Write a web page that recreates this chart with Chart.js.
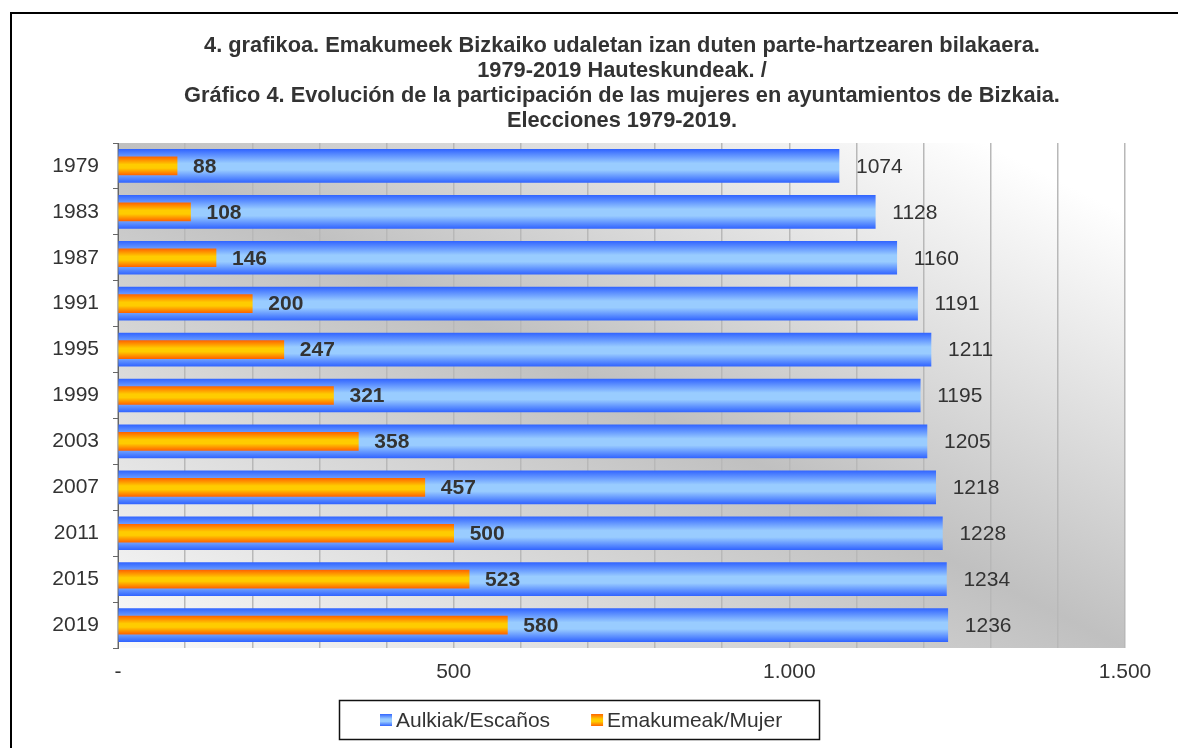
<!DOCTYPE html>
<html>
<head>
<meta charset="utf-8">
<title>Gráfico 4</title>
<script src="https://cdn.jsdelivr.net/npm/chart.js@4.4.1/dist/chart.umd.min.js"></script>
<style>
  html, body { margin: 0; padding: 0; background: #fff; overflow: hidden; }
  #chart { position: absolute; left: 0; top: 0; }
  #frame { position: absolute; left: 10px; top: 12px; width: 2000px; height: 2000px;
           border-left: 2px solid #000; border-top: 2px solid #000; pointer-events: none; }
</style>
</head>
<body>
<canvas id="chart" width="1244" height="748"></canvas>
<div id="frame"></div>
<script>
// hauteskundeak / elecciones
var years = ['1979', '1983', '1987', '1991', '1995', '1999', '2003', '2007', '2011', '2015', '2019'];
// aulkiak guztira / escaños totales
var seats = [1074, 1128, 1160, 1191, 1211, 1195, 1205, 1218, 1228, 1234, 1236];
// emakumeak / mujeres
var women = [88, 108, 146, 200, 247, 321, 358, 457, 500, 523, 580];

var seriesNames = ['Aulkiak/Escaños', 'Emakumeak/Mujer'];
var xTickLabels = { 0: '-', 500: '500', 1000: '1.000', 1500: '1.500' };
var titleLines = [
    '4. grafikoa. Emakumeek Bizkaiko udaletan izan duten parte-hartzearen bilakaera.',
    '1979-2019 Hauteskundeak. /',
    'Gráfico 4. Evolución de la participación de las mujeres en ayuntamientos de Bizkaia.',
    'Elecciones 1979-2019.'
];

var FONT = '"Liberation Sans", Arial, sans-serif';
var TEXT = '#333333';

function fillStops(g, edge, mid) {
    g.addColorStop(0, edge);
    g.addColorStop(0.42, mid);
    g.addColorStop(0.62, mid);
    g.addColorStop(1, edge);
    return g;
}

// vertical gradient on each bar, like the office chart
function barGradient(edge, mid) {
    return function(context) {
        var chart = context.chart;
        var yScale = chart.scales.y;
        if (!yScale || context.dataIndex === undefined) return edge;
        var t = context.dataset.barThickness;
        var cy = yScale.getPixelForValue(context.dataIndex);
        if (!isFinite(cy)) return edge;
        return fillStops(chart.ctx.createLinearGradient(0, cy - t / 2, 0, cy + t / 2), edge, mid);
    };
}

// light corners bottom-left and top-right, grey along the other diagonal
var plotBackground = {
    id: 'plotBackground',
    beforeDraw: function(chart) {
        var a = chart.chartArea, ctx = chart.ctx;
        if (!a) return;
        var w = a.right - a.left, h = a.bottom - a.top;
        var k = 2 / (1 / (w * w) + 1 / (h * h));
        var g = ctx.createLinearGradient(a.left, a.bottom, a.left + k / w, a.bottom - k / h);
        g.addColorStop(0, '#fafafa');
        g.addColorStop(0.5, '#c0c0c0');
        g.addColorStop(0.93, '#ffffff');
        g.addColorStop(1, '#ffffff');
        ctx.save();
        ctx.fillStyle = g;
        ctx.fillRect(a.left, a.top, w, h);
        ctx.restore();
    }
};

var valueLabels = {
    id: 'valueLabels',
    afterDatasetsDraw: function(chart) {
        var ctx = chart.ctx;
        ctx.save();
        ctx.textBaseline = 'middle';
        ctx.textAlign = 'left';
        ctx.fillStyle = TEXT;
        chart.data.datasets.forEach(function(ds, i) {
            var meta = chart.getDatasetMeta(i);
            ctx.font = (ds.labelBold ? 'bold ' : '') + '21px ' + FONT;
            meta.data.forEach(function(bar, j) {
                ctx.fillText(String(ds.data[j]), bar.x + ds.labelGap, bar.y + 1);
            });
        });
        ctx.restore();
    }
};

var boxedLegend = {
    id: 'boxedLegend',
    afterDraw: function(chart) {
        var ctx = chart.ctx;
        ctx.save();
        ctx.fillStyle = '#fff';
        ctx.fillRect(339, 700, 480, 39);
        ctx.strokeStyle = '#111';
        ctx.lineWidth = 1.5;
        ctx.strokeRect(339.5, 700.5, 480, 39);
        ctx.font = '21px ' + FONT;
        ctx.textBaseline = 'middle';
        ctx.textAlign = 'left';
        var x = 380, cy = 720;
        chart.data.datasets.forEach(function(ds) {
            ctx.fillStyle = fillStops(ctx.createLinearGradient(0, cy - 6, 0, cy + 6), ds.edgeColor, ds.midColor);
            ctx.fillRect(x, cy - 6, 12, 12);
            ctx.fillStyle = TEXT;
            ctx.fillText(ds.label, x + 16, cy + 1);
            x += 16 + ctx.measureText(ds.label).width + 41;
        });
        ctx.restore();
    }
};

window.onload = function() {
    var ctx = document.getElementById('chart').getContext('2d');
    new Chart(ctx, {
        type: 'bar',
        data: {
            labels: years,
            datasets: [
                {
                    label: seriesNames[0],
                    data: seats,
                    grouped: false,
                    order: 2,
                    barThickness: 33,
                    edgeColor: '#3366ff',
                    midColor: '#99ccff',
                    backgroundColor: barGradient('#3366ff', '#99ccff'),
                    borderWidth: 0,
                    labelGap: 17,
                    labelBold: false
                },
                {
                    label: seriesNames[1],
                    data: women,
                    grouped: false,
                    order: 1,
                    barThickness: 18,
                    edgeColor: '#ff6600',
                    midColor: '#ffcc00',
                    backgroundColor: barGradient('#ff6600', '#ffcc00'),
                    borderWidth: 0,
                    labelGap: 16,
                    labelBold: true
                }
            ]
        },
        options: {
            indexAxis: 'y',
            responsive: false,
            animation: false,
            layout: { padding: { left: 0, right: 0, top: 0, bottom: 60 } },
            plugins: {
                legend: { display: false },
                tooltip: { enabled: false },
                title: {
                    display: true,
                    text: titleLines,
                    color: TEXT,
                    font: { family: FONT, size: 21.8, weight: 'bold', lineHeight: '25px' },
                    padding: { top: 33, bottom: 10 }
                }
            },
            scales: {
                x: {
                    min: 0,
                    max: 1500,
                    ticks: {
                        stepSize: 100,
                        autoSkip: false,
                        maxRotation: 0,
                        padding: 12,
                        color: TEXT,
                        font: { family: FONT, size: 21 },
                        callback: function(v) { return xTickLabels[v] !== undefined ? xTickLabels[v] : ''; }
                    },
                    grid: { color: '#b8b8b8', lineWidth: 1.5, drawTicks: false },
                    border: { display: false },
                    afterFit: function(scale) { scale.height = 40; }
                },
                y: {
                    ticks: {
                        padding: 14,
                        color: TEXT,
                        font: { family: FONT, size: 21 }
                    },
                    grid: { drawOnChartArea: false, offset: true, tickLength: 5, color: '#666' },
                    border: { color: '#666', width: 1 },
                    afterFit: function(scale) { scale.width = 118; }
                },
                y2: {
                    type: 'category',
                    position: 'right',
                    ticks: { display: false },
                    grid: { display: false },
                    border: { display: false },
                    afterFit: function(scale) { scale.width = 119; }
                }
            }
        },
        plugins: [plotBackground, valueLabels, boxedLegend]
    });
};
</script>
</body>
</html>
